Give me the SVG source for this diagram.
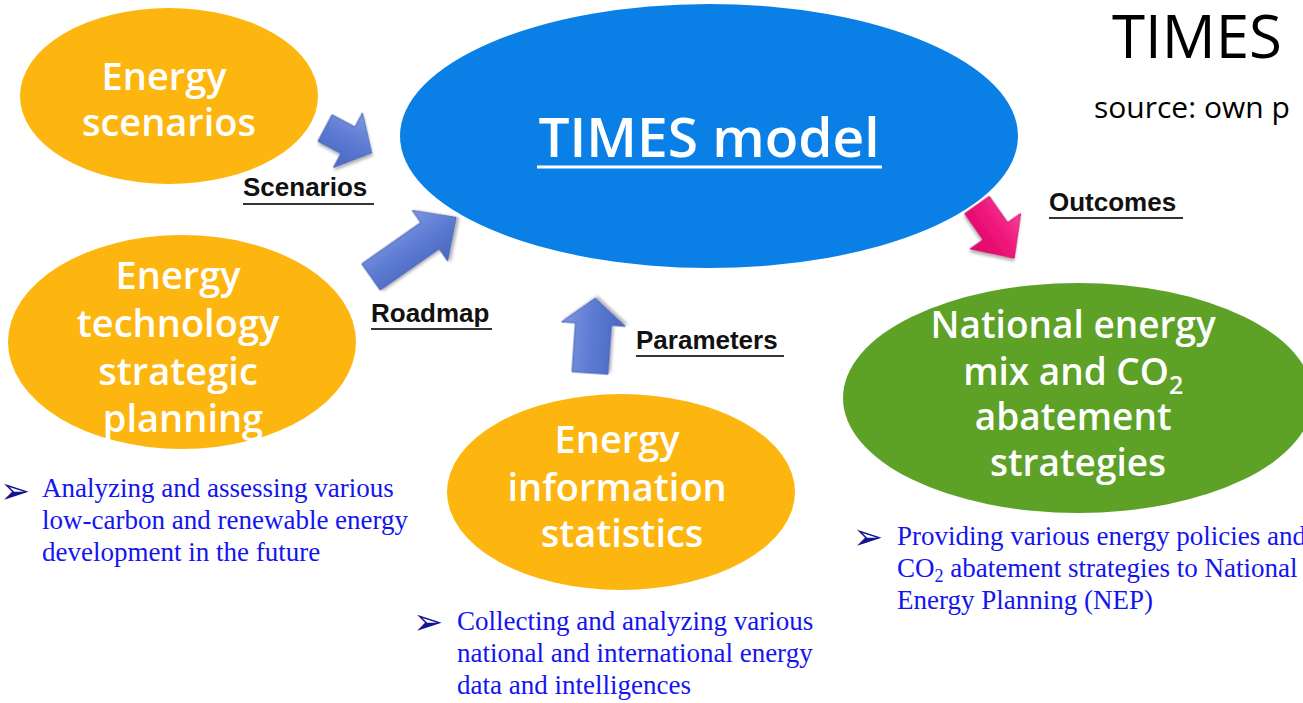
<svg xmlns="http://www.w3.org/2000/svg" width="1303" height="703" viewBox="0 0 1303 703">
  <style>
    .node-orange { fill: #FDB50F; }
    .node-blue { fill: #0A80E6; }
    .node-green { fill: #5DA127; }
    .node-text { font-family: "Open Sans", "Noto Sans", sans-serif; font-weight: 600; fill: #FFFFFF; text-anchor: middle; }
    .label { font-family: "Liberation Sans", Arial, sans-serif; font-weight: bold; font-size: 26px; fill: #111111; }
    .label-line { stroke: #333333; stroke-width: 2; }
    .note { font-family: "Liberation Serif", "Times New Roman", serif; font-size: 27px; fill: #1414F0; }
    .bullet { font-family: "DejaVu Sans", sans-serif; font-size: 36px; fill: #141490; }
    .heading { font-family: "Open Sans", "Noto Sans", sans-serif; fill: #000000; }
    .arrow-blue { fill: url(#blueGrad); stroke: #4B63B8; stroke-width: 1; filter: url(#arrowShadow); }
    .arrow-pink { fill: url(#pinkGrad); stroke: #D00E68; stroke-width: 1; filter: url(#arrowShadow); }
  </style>
  <defs>
    <linearGradient id="blueGrad" x1="0" y1="0" x2="0" y2="1">
      <stop offset="0" stop-color="#7E97E2"/>
      <stop offset="0.5" stop-color="#5C7AD2"/>
      <stop offset="1" stop-color="#4A66C0"/>
    </linearGradient>
    <linearGradient id="pinkGrad" x1="0" y1="0" x2="0" y2="1">
      <stop offset="0" stop-color="#F8409A"/>
      <stop offset="0.5" stop-color="#EE1378"/>
      <stop offset="1" stop-color="#D80B68"/>
    </linearGradient>
    <filter id="arrowShadow" x="-30%" y="-30%" width="160%" height="160%">
      <feDropShadow dx="2" dy="2" stdDeviation="1.5" flood-color="#000000" flood-opacity="0.3"/>
    </filter>
  </defs>

  <rect width="1303" height="703" fill="#FFFFFF"/>

  <!-- title, top right -->
  <g id="title">
    <text class="heading" x="1112" y="58" font-size="60">TIMES</text>
    <text class="heading" x="1094" y="118" font-size="30">source: own p</text>
  </g>

  <!-- connectors: block arrows with their labels -->
  <g id="connectors">
    <g id="arrow-scenarios">
      <path class="arrow-blue" transform="translate(325,128) rotate(28)" d="M0,-15 L26,-15 L26,-31 L53,0 L26,31 L26,15 L0,15 Z"/>
      <text class="label" x="243" y="196">Scenarios</text>
      <line class="label-line" x1="243" y1="204" x2="374" y2="204"/>
    </g>
    <g id="arrow-roadmap">
      <path class="arrow-blue" transform="translate(371,277) rotate(-35)" d="M0,-16 L72,-16 L72,-31 L104,0 L72,31 L72,16 L0,16 Z"/>
      <text class="label" x="371" y="322">Roadmap</text>
      <line class="label-line" x1="371" y1="329" x2="492" y2="329"/>
    </g>
    <g id="arrow-parameters">
      <path class="arrow-blue" transform="translate(590,373) rotate(-86)" d="M0,-18 L49,-18 L49,-32 L75,0 L49,32 L49,18 L0,18 Z"/>
      <text class="label" x="636" y="349">Parameters</text>
      <line class="label-line" x1="636" y1="356" x2="784" y2="356"/>
    </g>
    <g id="arrow-outcomes">
      <path class="arrow-pink" transform="translate(977,205) rotate(55)" d="M0,-15 L32,-15 L32,-31 L65,0 L32,31 L32,15 L0,15 Z"/>
      <text class="label" x="1049" y="211">Outcomes</text>
      <line class="label-line" x1="1049" y1="218" x2="1183" y2="218"/>
    </g>
  </g>

  <!-- central model -->
  <g id="node-times-model">
    <ellipse class="node-blue" cx="709" cy="136" rx="309" ry="132"/>
    <text class="node-text" x="709" y="157" font-size="55" font-weight="500">TIMES model</text>
    <line x1="537" y1="167" x2="882" y2="167" stroke="#FFFFFF" stroke-width="3"/>
  </g>

  <!-- input: scenarios -->
  <g id="node-energy-scenarios">
    <ellipse class="node-orange" cx="169" cy="96" rx="149" ry="88"/>
    <text class="node-text" font-size="38">
      <tspan x="169" y="90">Energy</tspan>
      <tspan x="169" y="136">scenarios</tspan>
    </text>
  </g>

  <!-- input: technology planning -->
  <g id="node-energy-technology">
    <ellipse class="node-orange" cx="182" cy="342" rx="174" ry="107"/>
    <text class="node-text" font-size="38">
      <tspan x="183" y="289">Energy</tspan>
      <tspan x="183" y="337">technology</tspan>
      <tspan x="183" y="385">strategic</tspan>
      <tspan x="183" y="432">planning</tspan>
    </text>
    <text class="bullet" x="0" y="503">➢</text>
    <text class="note">
      <tspan x="42" y="497">Analyzing and assessing various</tspan>
      <tspan x="42" y="529">low-carbon and renewable energy</tspan>
      <tspan x="42" y="561">development in the future</tspan>
    </text>
  </g>

  <!-- input: statistics -->
  <g id="node-energy-information">
    <ellipse class="node-orange" cx="621" cy="492" rx="174" ry="98"/>
    <text class="node-text" font-size="38">
      <tspan x="622" y="453">Energy</tspan>
      <tspan x="622" y="501">information</tspan>
      <tspan x="622" y="547">statistics</tspan>
    </text>
    <text class="bullet" x="413" y="634">➢</text>
    <text class="note">
      <tspan x="457" y="630">Collecting and analyzing various</tspan>
      <tspan x="457" y="662">national and international energy</tspan>
      <tspan x="457" y="694">data and intelligences</tspan>
    </text>
  </g>

  <!-- output: national strategies -->
  <g id="node-national-energy">
    <ellipse class="node-green" cx="1078" cy="398" rx="235" ry="115"/>
    <text class="node-text" font-size="37">
      <tspan x="1078" y="338">National energy</tspan>
      <tspan x="1078" y="385">mix and CO<tspan font-size="25" dy="9">2</tspan></tspan>
      <tspan x="1078" y="430">abatement</tspan>
      <tspan x="1078" y="476">strategies</tspan>
    </text>
    <text class="bullet" x="853" y="549">➢</text>
    <text class="note">
      <tspan x="897" y="545">Providing various energy policies and</tspan>
      <tspan x="897" y="577">CO<tspan font-size="18" dy="5">2</tspan><tspan dy="-5"> abatement strategies to National</tspan></tspan>
      <tspan x="897" y="609">Energy Planning (NEP)</tspan>
    </text>
  </g>
</svg>
